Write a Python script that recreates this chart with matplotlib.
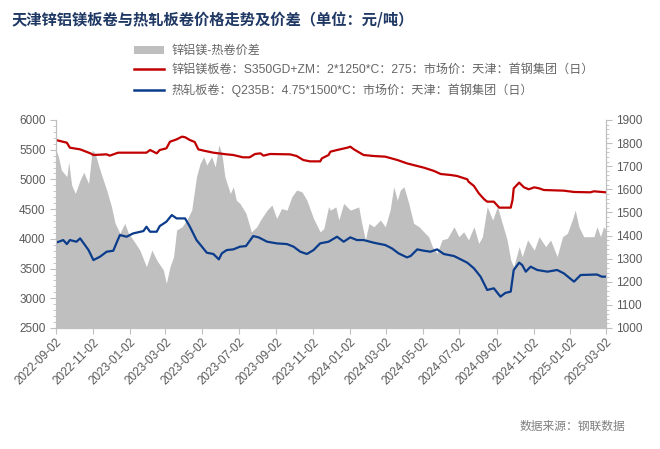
import matplotlib
matplotlib.use("Agg")
import matplotlib.pyplot as plt
from matplotlib.patches import Patch
from matplotlib.lines import Line2D
from matplotlib.ticker import MultipleLocator
import pandas as pd

plt.rcParams['font.family'] = ['Liberation Sans', 'Noto Sans CJK SC', 'DejaVu Sans']

title = "天津锌铝镁板卷与热轧板卷价格走势及价差（单位：元/吨）"
label_spread = "锌铝镁-热卷价差"
label_zm = "锌铝镁板卷：S350GD+ZM：2*1250*C：275：市场价：天津：首钢集团（日）"
label_hr = "热轧板卷：Q235B：4.75*1500*C：市场价：天津：首钢集团（日）"
source = "数据来源：钢联数据"

# zinc-aluminium-magnesium coil price, left axis
zm_dates = [
    "2022-09-02", "2022-09-20", "2022-09-25", "2022-10-12", "2022-10-29", "2022-11-03",
    "2022-11-25", "2022-11-30", "2022-12-14", "2023-01-08", "2023-01-30", "2023-02-05",
    "2023-02-16", "2023-02-21", "2023-03-04", "2023-03-10", "2023-03-21", "2023-03-30",
    "2023-04-04", "2023-04-12", "2023-04-20", "2023-04-26", "2023-05-05", "2023-05-21",
    "2023-06-12", "2023-06-23", "2023-07-09", "2023-07-20", "2023-07-29", "2023-08-07",
    "2023-08-12", "2023-08-23", "2023-09-25", "2023-10-06", "2023-10-17", "2023-10-28",
    "2023-11-14", "2023-11-17", "2023-11-28", "2023-12-01", "2023-12-12", "2023-12-29",
    "2024-01-03", "2024-01-09", "2024-01-25", "2024-02-11", "2024-03-01", "2024-03-21",
    "2024-04-06", "2024-04-23", "2024-05-04", "2024-05-21", "2024-06-01", "2024-06-17",
    "2024-06-28", "2024-07-15", "2024-07-17", "2024-07-26", "2024-08-03", "2024-08-12",
    "2024-08-17", "2024-08-28", "2024-09-06", "2024-09-25", "2024-09-28", "2024-09-30",
    "2024-10-09", "2024-10-17", "2024-10-25", "2024-11-03", "2024-11-11", "2024-11-19",
    "2024-12-22", "2025-01-08", "2025-02-04", "2025-02-10", "2025-03-02",
]
zm_price = [
    5663, 5618, 5534, 5506, 5439, 5411,
    5422, 5400, 5450, 5450, 5450, 5495,
    5439, 5495, 5523, 5635, 5674, 5720,
    5710, 5663, 5630, 5506, 5484, 5450,
    5422, 5411, 5372, 5372, 5428, 5439,
    5400, 5428, 5422, 5394, 5327, 5304,
    5304, 5355, 5411, 5467, 5495, 5534,
    5551, 5506, 5411, 5394, 5383, 5327,
    5270, 5226, 5198, 5142, 5091, 5075,
    5058, 5002, 4963, 4890, 4767, 4666,
    4626, 4626, 4525, 4525, 4654, 4850,
    4946, 4867, 4834, 4867, 4850, 4822,
    4811, 4789, 4783, 4800, 4783,
]

# hot-rolled coil price, left axis
hr_dates = [
    "2022-09-02", "2022-09-14", "2022-09-20", "2022-09-25", "2022-10-06", "2022-10-12",
    "2022-10-18", "2022-10-26", "2022-11-03", "2022-11-14", "2022-11-25", "2022-12-06",
    "2022-12-11", "2022-12-17", "2022-12-28", "2023-01-08", "2023-01-25", "2023-01-30",
    "2023-02-05", "2023-02-16", "2023-02-21", "2023-03-04", "2023-03-13", "2023-03-21",
    "2023-04-04", "2023-04-12", "2023-04-23", "2023-05-02", "2023-05-10", "2023-05-21",
    "2023-05-30", "2023-06-04", "2023-06-12", "2023-06-23", "2023-07-04", "2023-07-14",
    "2023-07-26", "2023-08-04", "2023-08-18", "2023-09-03", "2023-09-20", "2023-10-01",
    "2023-10-12", "2023-10-23", "2023-11-03", "2023-11-14", "2023-11-28", "2023-12-12",
    "2023-12-23", "2024-01-03", "2024-01-14", "2024-01-25", "2024-02-11", "2024-02-22",
    "2024-03-01", "2024-03-12", "2024-03-23", "2024-04-06", "2024-04-12", "2024-04-23",
    "2024-05-04", "2024-05-15", "2024-05-26", "2024-06-06", "2024-06-23", "2024-07-04",
    "2024-07-15", "2024-07-26", "2024-08-06", "2024-08-17", "2024-08-28", "2024-09-08",
    "2024-09-16", "2024-09-25", "2024-09-30", "2024-10-09", "2024-10-14", "2024-10-20",
    "2024-10-28", "2024-11-08", "2024-11-25", "2024-12-11", "2024-12-22", "2025-01-08",
    "2025-01-19", "2025-02-15", "2025-02-23", "2025-03-02",
]
hr_price = [
    3935, 3980, 3912, 3980, 3952, 4008,
    3924, 3811, 3643, 3700, 3784, 3800,
    3924, 4064, 4036, 4092, 4131, 4204,
    4120, 4120, 4215, 4288, 4400, 4344,
    4344, 4204, 3980, 3868, 3767, 3745,
    3655, 3756, 3811, 3823, 3868, 3879,
    4047, 4025, 3952, 3924, 3912, 3868,
    3784, 3745, 3811, 3924, 3952, 4036,
    3952, 4025, 3980, 3980, 3935, 3912,
    3896, 3840, 3756, 3688, 3711, 3823,
    3800, 3784, 3823, 3745, 3711, 3655,
    3599, 3504, 3364, 3140, 3168, 3028,
    3090, 3112, 3476, 3599, 3560, 3448,
    3532, 3476, 3448, 3476, 3420, 3280,
    3392, 3400, 3364, 3364,
]

# price spread, right axis
spread_dates = [
    "2022-09-02", "2022-09-06", "2022-09-11", "2022-09-20", "2022-09-23", "2022-09-28",
    "2022-10-04", "2022-10-12", "2022-10-18", "2022-10-26", "2022-11-01", "2022-11-06",
    "2022-11-14", "2022-11-25", "2022-12-03", "2022-12-09", "2022-12-17", "2022-12-25",
    "2022-12-31", "2023-01-08", "2023-01-19", "2023-01-30", "2023-02-08", "2023-02-16",
    "2023-02-27", "2023-03-04", "2023-03-10", "2023-03-16", "2023-03-21", "2023-03-30",
    "2023-04-07", "2023-04-15", "2023-04-23", "2023-04-29", "2023-05-05", "2023-05-10",
    "2023-05-18", "2023-05-24", "2023-05-30", "2023-06-04", "2023-06-09", "2023-06-18",
    "2023-06-23", "2023-06-28", "2023-07-04", "2023-07-14", "2023-07-23", "2023-08-01",
    "2023-08-07", "2023-08-18", "2023-08-26", "2023-09-03", "2023-09-11", "2023-09-20",
    "2023-09-28", "2023-10-06", "2023-10-15", "2023-10-23", "2023-11-03", "2023-11-14",
    "2023-11-20", "2023-11-28", "2023-12-01", "2023-12-10", "2023-12-15", "2023-12-23",
    "2024-01-03", "2024-01-17", "2024-01-22", "2024-01-28", "2024-02-03", "2024-02-11",
    "2024-02-22", "2024-03-01", "2024-03-09", "2024-03-15", "2024-03-21", "2024-03-26",
    "2024-04-01", "2024-04-09", "2024-04-17", "2024-04-26", "2024-05-04", "2024-05-12",
    "2024-05-18", "2024-05-26", "2024-06-03", "2024-06-12", "2024-06-23", "2024-07-01",
    "2024-07-09", "2024-07-17", "2024-07-26", "2024-08-03", "2024-08-09", "2024-08-17",
    "2024-08-26", "2024-09-03", "2024-09-11", "2024-09-19", "2024-09-25", "2024-09-30",
    "2024-10-09", "2024-10-14", "2024-10-23", "2024-11-03", "2024-11-11", "2024-11-22",
    "2024-11-30", "2024-12-11", "2024-12-20", "2024-12-28", "2025-01-05", "2025-01-10",
    "2025-01-16", "2025-01-24", "2025-02-10", "2025-02-15", "2025-02-21", "2025-02-26",
    "2025-03-02",
]
spread_val = [
    1770, 1741, 1683, 1655, 1719, 1618,
    1582, 1640, 1674, 1625, 1770, 1755,
    1683, 1597, 1525, 1453, 1410, 1453,
    1410, 1381, 1337, 1265, 1337, 1294,
    1251, 1193, 1265, 1309, 1424, 1438,
    1467, 1510, 1655, 1712, 1741, 1705,
    1741, 1697, 1792, 1755, 1655, 1582,
    1611, 1553, 1539, 1496, 1416, 1438,
    1467, 1510, 1532, 1474, 1517, 1510,
    1568, 1597, 1589, 1553, 1474, 1416,
    1430, 1525, 1510, 1524, 1467, 1539,
    1510, 1524, 1453, 1381, 1452, 1438,
    1467, 1438, 1510, 1611, 1553, 1597,
    1611, 1539, 1453, 1438, 1416, 1395,
    1352, 1323, 1381, 1388, 1438, 1395,
    1416, 1381, 1438, 1366, 1395, 1525,
    1467, 1525, 1453, 1381, 1294, 1265,
    1352, 1309, 1381, 1337, 1395, 1352,
    1381, 1309, 1395, 1410, 1467, 1510,
    1438, 1395, 1395, 1438, 1395, 1438,
    1424,
]

tick_labels = [
    "2022-09-02", "2022-11-02", "2023-01-02", "2023-03-02", "2023-05-02", "2023-07-02",
    "2023-09-02", "2023-11-02", "2024-01-02", "2024-03-02", "2024-05-02", "2024-07-02",
    "2024-09-02", "2024-11-02", "2025-01-02", "2025-03-02",
]

c_grey = "#BFBFBF"
c_red = "#C00000"
c_blue = "#0B3C8C"
c_text = "#595959"
c_axis = "#BFBFBF"

fig = plt.figure(figsize=(6.6, 4.49), dpi=100)
ax = fig.add_axes([56 / 660, 1 - 328 / 449, 550 / 660, 208 / 449])
ax2 = ax.twinx()

# spread area on the right axis, behind the lines
ax2.fill_between(pd.to_datetime(spread_dates), spread_val, 1000, color=c_grey, lw=0)
ax.plot(pd.to_datetime(zm_dates), zm_price, color=c_red, lw=1.6)
ax.plot(pd.to_datetime(hr_dates), hr_price, color=c_blue, lw=1.6)
ax.set_zorder(ax2.get_zorder() + 1)
ax.patch.set_visible(False)

ax.set_xlim(pd.Timestamp(tick_labels[0]), pd.Timestamp(tick_labels[-1]))
ax.set_ylim(2500, 6000)
ax2.set_ylim(1000, 1900)
ax.yaxis.set_major_locator(MultipleLocator(500))
ax.yaxis.set_minor_locator(MultipleLocator(100))
ax2.yaxis.set_major_locator(MultipleLocator(100))
ax2.yaxis.set_minor_locator(MultipleLocator(20))

ax.set_xticks(pd.to_datetime(tick_labels))
ax.set_xticklabels(tick_labels, rotation=45, ha="right", rotation_mode="anchor")

for a in (ax, ax2):
    a.spines["top"].set_visible(False)
    for s in ("left", "right", "bottom"):
        a.spines[s].set_color(c_axis)
    a.tick_params(which="both", color=c_axis, labelcolor=c_text, labelsize=8.5)
    a.tick_params(which="major", length=4)
    a.tick_params(which="minor", length=2)
ax.tick_params(axis="x", labelsize=8.5, pad=2)

# legend
handles = [
    Patch(facecolor=c_grey, edgecolor="none"),
    Line2D([], [], color=c_red, lw=1.8),
    Line2D([], [], color=c_blue, lw=1.8),
]
fig.legend(handles, [label_spread, label_zm, label_hr], loc="upper left",
           bbox_to_anchor=(134 / 660, 1 - 45 / 449), frameon=False, fontsize=8.7,
           labelcolor="#666666", handlelength=2.5, handleheight=0.7,
           handletextpad=0.6, labelspacing=0.6, borderaxespad=0, borderpad=0)

fig.text(12 / 660, 1 - 20 / 449, title, ha="left", va="center", fontsize=11,
         fontweight="bold", color="#1F3864", family=["Noto Sans CJK SC", "DejaVu Sans"])
fig.text(625 / 660, 1 - 426 / 449, source, ha="right", va="center", fontsize=8.5,
         color="#7F7F7F", family=["Noto Sans CJK SC", "DejaVu Sans"])

fig.savefig("out.png", dpi=100)
